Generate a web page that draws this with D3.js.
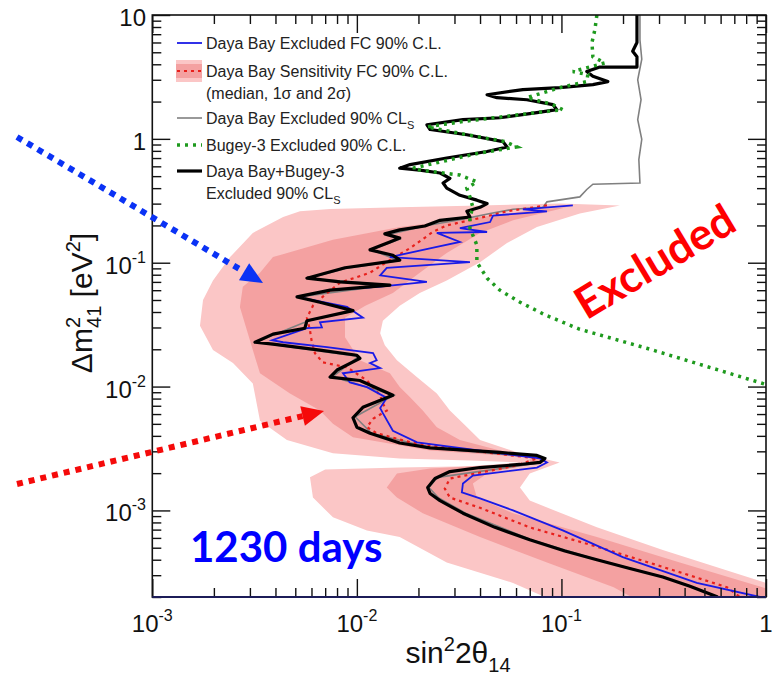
<!DOCTYPE html>
<html>
<head>
<meta charset="utf-8">
<script src="https://cdn.jsdelivr.net/npm/d3@7"></script>
<style>
  body { margin: 0; background: #fff; }
  svg { display: block; }
</style>
</head>
<body>
<div id="chart"></div>
<script>
// ---- data: [sin^2 2theta14, dm^2_41 (eV^2)] ----
const xMajor = [1e-3, 1e-2, 1e-1, 1];
const xTickLabels = [["10", "-3"], ["10", "-2"], ["10", "-1"], ["1", ""]];
const yMajor = [1e-3, 1e-2, 1e-1, 1, 10];
const yTickLabels = [["10", "-3"], ["10", "-2"], ["10", "-1"], ["1", ""], ["10", ""]];

const legendLabels = [
  "Daya Bay Excluded FC 90% C.L.",
  "Daya Bay Sensitivity FC 90% C.L.",
  "(median, 1σ and 2σ)",
  "Daya Bay Excluded 90% CL",
  "Bugey-3 Excluded 90% C.L.",
  "Daya Bay+Bugey-3",
  "Excluded 90% CL"
];

// 2 sigma sensitivity band (outline)
const band2s = [[0.00527,0.26],[0.0074,0.272],[0.0162,0.28],[0.04,0.29],[0.098,0.30],[0.193,0.29],
  [0.123,0.25],[0.0759,0.194],[0.0542,0.144],[0.04,0.101],[0.0275,0.072],[0.0203,0.057],[0.0162,0.045],
  [0.0134,0.034],[0.013,0.027],[0.0137,0.0216],[0.0157,0.0163],[0.0197,0.0119],[0.0246,0.0088],
  [0.0285,0.0064],[0.0337,0.0049],[0.04,0.0037],[0.0627,0.00289],[0.098,0.00244],[0.070,0.00199],
  [0.0627,0.00153],[0.070,0.0012],[0.149,0.00073],[0.313,0.00048],[1,0.00026],[1,0.0002],[0.083,0.0002],
  [0.058,0.00026],[0.0275,0.00038],[0.0162,0.00061],[0.0112,0.00069],[0.00764,0.00088],[0.0061,0.00127],
  [0.0059,0.00185],[0.007,0.00214],[0.0162,0.00222],[0.0357,0.00227],[0.0627,0.00244],[0.0357,0.00253],
  [0.0162,0.00263],[0.00764,0.00289],[0.00455,0.0037],[0.00336,0.0053],[0.0031,0.0106],[0.00248,0.0155],
  [0.00198,0.0197],[0.00171,0.031],[0.00177,0.050],[0.00198,0.072],[0.0024,0.111],[0.0031,0.174],
  [0.00436,0.234]];

// 1 sigma sensitivity band (outline)
const band1s = [[0.106,0.28],[0.058,0.22],[0.04,0.174],[0.0275,0.12],[0.0203,0.083],[0.015,0.057],
  [0.011,0.045],[0.00875,0.036],[0.00875,0.025],[0.01035,0.0163],[0.0145,0.0128],[0.0162,0.0099],
  [0.0182,0.0082],[0.021,0.0064],[0.0246,0.0047],[0.0319,0.0037],[0.05,0.00305],[0.085,0.00253],
  [0.0433,0.00199],[0.0369,0.00165],[0.0386,0.00127],[0.058,0.00095],[0.149,0.00061],[0.379,0.00038],
  [1,0.000235],[1,0.0002],[0.22,0.0002],[0.18,0.00024],[0.085,0.00038],[0.04,0.00061],[0.021,0.00095],
  [0.0157,0.00127],[0.014,0.00153],[0.0157,0.00199],[0.0228,0.00218],[0.070,0.0024],[0.070,0.00268],
  [0.0228,0.00305],[0.00957,0.0039],[0.00764,0.005],[0.0066,0.0064],[0.00471,0.0088],[0.00336,0.0128],
  [0.0031,0.0197],[0.0029,0.0285],[0.00268,0.044],[0.00277,0.064],[0.00336,0.083],[0.00389,0.111],
  [0.00764,0.153],[0.0162,0.194],[0.04,0.234],[0.0785,0.27]];

// median sensitivity (red dotted)
const median = [[0.085,0.29],[0.0542,0.26],[0.04,0.23],[0.0275,0.20],[0.0235,0.177],[0.0182,0.131],
  [0.015,0.109],[0.0116,0.083],[0.00827,0.069],[0.0068,0.053],[0.0061,0.045],[0.0057,0.036],[0.0059,0.0285],
  [0.006,0.0237],[0.00624,0.0186],[0.0068,0.0157],[0.00895,0.0143],[0.0112,0.0112],[0.013,0.0085],
  [0.0134,0.0073],[0.014,0.0064],[0.012,0.0055],[0.0112,0.0047],[0.0125,0.0042],[0.0182,0.00355],
  [0.0357,0.00305],[0.0759,0.00263],[0.0606,0.00231],[0.0285,0.00181],[0.0269,0.0015],[0.0285,0.00127],
  [0.04,0.00105],[0.070,0.00073],[0.149,0.00051],[0.313,0.00035],[0.644,0.00024],[0.745,0.0002]];

// Daya Bay excluded FC 90% (blue)
const dybFC = [[0.1137,0.29],[0.0648,0.27],[0.085,0.26],[0.0463,0.24],[0.0448,0.213],[0.0319,0.19],
  [0.0433,0.177],[0.0246,0.174],[0.0319,0.147],[0.0246,0.134],[0.0145,0.111],[0.0357,0.101],[0.014,0.091],
  [0.013,0.079],[0.022,0.070],[0.013,0.064],[0.0074,0.060],[0.0051,0.053],[0.00895,0.044],[0.0107,0.036],
  [0.0066,0.033],[0.00675,0.030],[0.0057,0.0296],[0.00385,0.0237],[0.00436,0.0228],[0.00714,0.0208],
  [0.012,0.0186],[0.0125,0.0163],[0.0116,0.0155],[0.013,0.0141],[0.00855,0.0128],[0.00925,0.0108],
  [0.0112,0.0099],[0.014,0.0081],[0.013,0.0067],[0.0134,0.0061],[0.015,0.0044],[0.0197,0.00355],
  [0.033,0.00317],[0.0785,0.00263],[0.085,0.00244],[0.0759,0.00222],[0.0369,0.00191],[0.033,0.00165],
  [0.0326,0.0014],[0.04,0.00125],[0.058,0.001],[0.1015,0.00069],[0.1995,0.00042],[0.459,0.00026],
  [0.933,0.0002]];

// Daya Bay excluded 90% CLs (grey)
const dybCLs = [[0.242,10],[0.242,6.3],[0.247,4.4],[0.236,3.0],[0.245,2.07],[0.236,1.43],[0.247,0.99],
  [0.239,0.68],[0.242,0.44],[0.1425,0.43],[0.133,0.39],[0.123,0.34],[0.085,0.31],[0.0812,0.28],
  [0.058,0.27],[0.0448,0.25],[0.033,0.225],[0.022,0.2],[0.0145,0.17],[0.0162,0.155],[0.0118,0.127],
  [0.016,0.104],[0.0088,0.09],[0.0058,0.075],[0.0145,0.066],[0.0052,0.053],[0.0097,0.041],[0.0058,0.034],
  [0.0032,0.0228],[0.0102,0.0175],[0.0076,0.012],[0.0152,0.0085],[0.0098,0.0057],[0.0118,0.0042],
  [0.023,0.0032],[0.083,0.00265],[0.076,0.0024],[0.0248,0.00185],[0.0225,0.00153],[0.025,0.00127],
  [0.034,0.00095],[0.071,0.00058],[0.15,0.0004],[0.315,0.00029],[0.585,0.0002]];

// Bugey-3 excluded 90% (green dotted)
const bugey = [[0.149,10],[0.1457,7.6],[0.141,6.0],[0.1425,4.6],[0.163,4.1],[0.1137,3.5],[0.1346,3.3],
  [0.133,2.9],[0.098,2.59],[0.0678,2.15],[0.0908,1.89],[0.1015,1.72],[0.0759,1.63],[0.033,1.38],
  [0.022,1.25],[0.0345,1.08],[0.053,0.95],[0.0606,0.86],[0.04,0.77],[0.0188,0.58],[0.0203,0.56],
  [0.0319,0.51],[0.0386,0.45],[0.0345,0.40],[0.0357,0.34],[0.0369,0.28],[0.0357,0.234],[0.0357,0.19],
  [0.0386,0.139],[0.0386,0.101],[0.0433,0.075],[0.05,0.060],[0.0627,0.048],[0.083,0.038],[0.123,0.029],
  [0.261,0.0204],[1.0,0.0104]];

// Daya Bay + Bugey-3 excluded 90% CLs (black)
const combined = [[0.234,10],[0.234,6.0],[0.223,5.1],[0.234,4.6],[0.234,3.8],[0.154,3.8],[0.133,3.5],
  [0.1425,3.2],[0.1686,2.9],[0.1425,2.74],[0.098,2.59],[0.0648,2.5],[0.0433,2.27],[0.0484,2.15],
  [0.0678,2.07],[0.0908,1.89],[0.095,1.72],[0.0759,1.63],[0.05,1.48],[0.033,1.43],[0.022,1.30],
  [0.0228,1.19],[0.0345,1.08],[0.0518,0.95],[0.0542,0.86],[0.0433,0.79],[0.0275,0.70],[0.0182,0.62],
  [0.0162,0.58],[0.0203,0.56],[0.0255,0.53],[0.0285,0.48],[0.0264,0.44],[0.0275,0.40],[0.0319,0.35],
  [0.0386,0.32],[0.0433,0.30],[0.04,0.28],[0.0345,0.26],[0.0357,0.234],[0.0255,0.22],[0.0215,0.198],
  [0.0162,0.184],[0.0137,0.171],[0.0162,0.158],[0.0145,0.147],[0.0116,0.127],[0.015,0.115],[0.0162,0.105],
  [0.00875,0.091],[0.0057,0.075],[0.00827,0.070],[0.0145,0.066],[0.0074,0.060],[0.0051,0.053],
  [0.0066,0.048],[0.00957,0.041],[0.0057,0.034],[0.00557,0.0296],[0.00389,0.0265],[0.00318,0.0228],
  [0.00389,0.022],[0.0066,0.0197],[0.01,0.0179],[0.01035,0.0169],[0.008,0.0136],[0.0074,0.0119],
  [0.01035,0.0112],[0.015,0.0085],[0.0107,0.0068],[0.00957,0.0056],[0.01,0.0047],[0.0116,0.0042],
  [0.0162,0.0035],[0.0228,0.0032],[0.05,0.00294],[0.0759,0.00278],[0.083,0.00263],[0.0785,0.00244],
  [0.0627,0.00235],[0.04,0.00222],[0.0285,0.00206],[0.0241,0.00181],[0.0222,0.00153],[0.0228,0.00137],
  [0.0255,0.0012],[0.033,0.00095],[0.0473,0.00073],[0.070,0.00058],[0.104,0.00047],[0.149,0.0004],
  [0.216,0.00034],[0.313,0.00029],[0.425,0.000244],[0.581,0.0002]];

// ---- drawing ----
var svg = d3.select("#chart").append("svg")
  .attr("width", 776).attr("height", 677)
  .style("font-family", "'Liberation Sans', Arial, sans-serif");

var pLeft = 152.3, pRight = 766, pTop = 15, pBottom = 597;
var x = d3.scaleLog().domain([1e-3, 1]).range([pLeft, pRight]);
var y = d3.scaleLog().domain([2e-4, 10]).range([pBottom, pTop]);

svg.append("clipPath").attr("id", "plotArea").append("rect")
  .attr("x", pLeft).attr("y", pTop).attr("width", pRight - pLeft).attr("height", pBottom - pTop);

var line = d3.line().x(function (d) { return x(d[0]); }).y(function (d) { return y(d[1]); });

var plot = svg.append("g").attr("clip-path", "url(#plotArea)");

plot.append("path").attr("d", line(band2s) + "Z").attr("fill", "#fbc6c6");
plot.append("path").attr("d", line(band1s) + "Z").attr("fill", "#f4a1a1");

plot.append("path").datum(dybCLs).attr("d", line).attr("fill", "none")
  .attr("stroke", "#808080").attr("stroke-width", 1.6);
plot.append("path").datum(median).attr("d", line).attr("fill", "none")
  .attr("stroke", "#e8201c").attr("stroke-width", 2.2).attr("stroke-dasharray", "3,4");
plot.append("path").datum(dybFC).attr("d", line).attr("fill", "none")
  .attr("stroke", "#1a1ae6").attr("stroke-width", 1.8);
plot.append("path").datum(combined).attr("d", line).attr("fill", "none")
  .attr("stroke", "#000").attr("stroke-width", 3.2).attr("stroke-linejoin", "round");
plot.append("path").datum(bugey).attr("d", line).attr("fill", "none")
  .attr("stroke", "#1e9a1e").attr("stroke-width", 3.5).attr("stroke-dasharray", "3,5");

// axes: inward ticks on all four sides
function isMajor(v) { var l = Math.log10(v); return Math.abs(l - Math.round(l)) < 1e-6; }
var xMinor = x.ticks().filter(function (v) { return !isMajor(v); });
var yMinor = y.ticks().filter(function (v) { return !isMajor(v); });

function ticks(axis, transform, values, size) {
  svg.append("g").attr("transform", transform)
    .call(axis.tickValues(values).tickSize(size).tickFormat(""))
    .call(function (a) { a.select(".domain").remove(); })
    .selectAll("line").attr("stroke", "#111").attr("stroke-width", 1.4);
}
ticks(d3.axisBottom(x), "translate(0," + pBottom + ")", xMajor, -18);
ticks(d3.axisBottom(x), "translate(0," + pBottom + ")", xMinor, -9);
ticks(d3.axisTop(x), "translate(0," + pTop + ")", xMajor, -18);
ticks(d3.axisTop(x), "translate(0," + pTop + ")", xMinor, -9);
ticks(d3.axisLeft(y), "translate(" + pLeft + ",0)", yMajor, -18);
ticks(d3.axisLeft(y), "translate(" + pLeft + ",0)", yMinor, -9);
ticks(d3.axisRight(y), "translate(" + pRight + ",0)", yMajor, -18);
ticks(d3.axisRight(y), "translate(" + pRight + ",0)", yMinor, -9);

svg.append("rect").attr("x", pLeft).attr("y", pTop).attr("width", pRight - pLeft).attr("height", pBottom - pTop)
  .attr("fill", "none").attr("stroke", "#111").attr("stroke-width", 1.6);
svg.append("line").attr("x1", pLeft).attr("x2", pRight).attr("y1", pBottom).attr("y2", pBottom)
  .attr("stroke", "#1c1c58").attr("stroke-width", 2);

// tick labels
xMajor.forEach(function (v, i) {
  var t = svg.append("text").attr("x", x(v)).attr("y", 632).attr("text-anchor", "middle")
    .attr("font-size", 24).attr("fill", "#111");
  t.append("tspan").text(xTickLabels[i][0]);
  if (xTickLabels[i][1]) t.append("tspan").attr("dy", -11).attr("font-size", 16).text(xTickLabels[i][1]);
});
yMajor.forEach(function (v, i) {
  var t = svg.append("text").attr("x", 146).attr("y", y(v) + 11).attr("text-anchor", "end")
    .attr("font-size", 24).attr("fill", "#111");
  t.append("tspan").text(yTickLabels[i][0]);
  if (yTickLabels[i][1]) t.append("tspan").attr("dy", -11).attr("font-size", 16).text(yTickLabels[i][1]);
});

// axis titles
var xt = svg.append("text").attr("x", 458).attr("y", 663).attr("text-anchor", "middle")
  .attr("font-size", 30).attr("fill", "#111");
xt.append("tspan").text("sin");
xt.append("tspan").attr("dy", -12).attr("font-size", 20).text("2");
xt.append("tspan").attr("dy", 12).text("2θ");
xt.append("tspan").attr("dy", 9).attr("font-size", 20).text("14");

var yt = svg.append("text").attr("transform", "translate(92,303) rotate(-90)").attr("text-anchor", "middle")
  .attr("font-size", 30).attr("fill", "#111");
yt.append("tspan").text("Δm");
yt.append("tspan").attr("dy", -12).attr("font-size", 20).text("2");
yt.append("tspan").attr("dy", 21).attr("dx", -11).attr("font-size", 20).text("41");
yt.append("tspan").attr("dy", -9).text(" [eV");
yt.append("tspan").attr("dy", -12).attr("font-size", 20).text("2");
yt.append("tspan").attr("dy", 12).text("]");

// legend
var lg = svg.append("g").attr("font-size", 16).attr("fill", "#222");
var lx0 = 177, lx1 = 202, tx = 206;
lg.append("line").attr("x1", lx0).attr("x2", lx1).attr("y1", 43).attr("y2", 43)
  .attr("stroke", "#1a1ae6").attr("stroke-width", 1.8);
lg.append("rect").attr("x", lx0 - 1).attr("y", 60).attr("width", 26).attr("height", 22).attr("fill", "#fbc6c6");
lg.append("rect").attr("x", lx0 - 1).attr("y", 64).attr("width", 26).attr("height", 14).attr("fill", "#f4a1a1");
lg.append("line").attr("x1", lx0).attr("x2", lx1).attr("y1", 71).attr("y2", 71)
  .attr("stroke", "#e8201c").attr("stroke-width", 2.2).attr("stroke-dasharray", "3,4");
lg.append("line").attr("x1", lx0).attr("x2", lx1).attr("y1", 118).attr("y2", 118)
  .attr("stroke", "#808080").attr("stroke-width", 1.6);
lg.append("line").attr("x1", lx0).attr("x2", lx1).attr("y1", 145).attr("y2", 145)
  .attr("stroke", "#1e9a1e").attr("stroke-width", 3.5).attr("stroke-dasharray", "3,5");
lg.append("line").attr("x1", lx0).attr("x2", lx1).attr("y1", 171).attr("y2", 171)
  .attr("stroke", "#000").attr("stroke-width", 3.2);

var rows = [49, 77, 99, 124, 151, 177, 199];
legendLabels.forEach(function (s, i) {
  var t = lg.append("text").attr("x", tx).attr("y", rows[i]).text(s);
  if (i === 3 || i === 6) t.append("tspan").attr("dy", 5).attr("font-size", 11).text("S");
});

// annotations
function arrow(x0, y0, x1, y1, color) {
  var a = Math.atan2(y1 - y0, x1 - x0), hl = 22, hw = 10;
  var bx = x1 - hl * Math.cos(a), by = y1 - hl * Math.sin(a);
  svg.append("line").attr("x1", x0).attr("y1", y0).attr("x2", bx).attr("y2", by)
    .attr("stroke", color).attr("stroke-width", 6).attr("stroke-dasharray", "6,6");
  svg.append("path").attr("fill", color).attr("d",
    "M" + x1 + "," + y1 +
    "L" + (bx + hw * Math.sin(a)) + "," + (by - hw * Math.cos(a)) +
    "L" + (bx - hw * Math.sin(a)) + "," + (by + hw * Math.cos(a)) + "Z");
}
arrow(17, 137, 263, 283, "#0a32f5");
arrow(17, 484, 324, 411, "#f50a0a");

svg.append("text").attr("x", 190).attr("y", 562).attr("font-family", "Lato, 'Open Sans', sans-serif")
  .attr("font-weight", "bold").attr("font-size", 42).attr("fill", "#0000ff").text("1230 days");

svg.append("text").attr("transform", "translate(655,262) rotate(-31)").attr("text-anchor", "middle")
  .attr("dy", 15).attr("font-family", "Lato, 'Open Sans', sans-serif")
  .attr("font-weight", "bold").attr("font-size", 44).attr("fill", "#ff0000").text("Excluded");
</script>
</body>
</html>
